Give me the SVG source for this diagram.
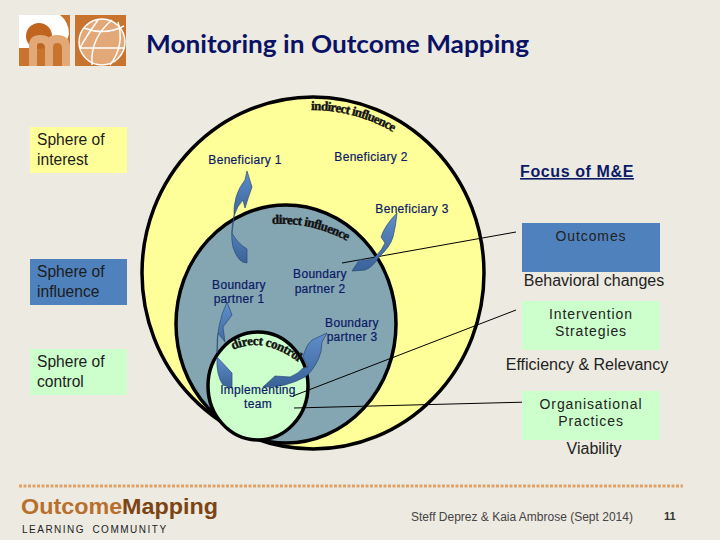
<svg xmlns="http://www.w3.org/2000/svg" width="720" height="540" viewBox="0 0 720 540">
<defs>
<linearGradient id="ag" x1="0" y1="0" x2="0" y2="1"><stop offset="0" stop-color="#5f8fca"/><stop offset="1" stop-color="#3a6299"/></linearGradient>
<path id="p1" d="M311 110 Q355 110 393 132"/>
<path id="p2" d="M272 224 Q312 222 347 241"/>
<path id="p3" d="M233 350 Q262 336 297 361"/>
</defs>
<style>
.s{font:15.6px "Liberation Sans",Arial,sans-serif;fill:#1c1c1c}
.r{font:16px "Liberation Sans",Arial,sans-serif;fill:#222;text-anchor:middle}
.t{font:14px "Liberation Sans",Arial,sans-serif;fill:#222;text-anchor:middle;letter-spacing:.9px}
.n{font:12px "Liberation Sans",Arial,sans-serif;fill:#0a1a66;text-anchor:middle;letter-spacing:.3px;stroke:#0a1a66;stroke-width:.2}
.c{fill:none;stroke:#000;stroke-width:3.5}
.w{font:bold 13px "Liberation Serif",serif;fill:#111;stroke:#111;stroke-width:.4}
.a{fill:url(#ag);stroke:#2a4a78;stroke-width:.7}
.l{fill:none;stroke:#000;stroke-width:1}
</style>
<rect width="720" height="540" fill="#edeae1"/>
<g id="logo">
<rect x="19" y="15" width="51" height="51" fill="#c8742f"/>
<path d="M19 15H60Q69 22 69 34Q66 46 60 42L40 46L30 48H19Z" fill="#fff"/>
<circle cx="39" cy="36" r="13" fill="#c0651f"/>
<path d="M33 66V46Q33 39 40 39Q49 39 49 48V66M49 48Q49 39 57 39Q66 39 66 48V66" fill="none" stroke="#e2a877" stroke-width="8"/>
<rect x="75" y="15" width="51" height="51" fill="#c8742f"/>
<circle cx="102" cy="42" r="23" fill="#e2a877" stroke="#fff" stroke-width="1.5"/>
<path d="M80 48H125M84 28Q105 36 124 26M112 20Q90 38 92 65M118 22Q125 45 110 65M98 20Q85 38 80 48" fill="none" stroke="#fff" stroke-width="1.5"/>
</g>
<text x="146" y="53" style="font:bold 24px Lato,'Open Sans',sans-serif;fill:#0a1266" textLength="383" lengthAdjust="spacingAndGlyphs">Monitoring in Outcome Mapping</text>
<g id="legend-interest"><rect x="30" y="127" width="97" height="46" fill="#ffff99"/><text class="s" x="37" y="145">Sphere of</text><text class="s" x="37" y="165">interest</text></g>
<g id="legend-influence"><rect x="30" y="259" width="97" height="46" fill="#4f81bd"/><text class="s" x="37" y="277">Sphere of</text><text class="s" x="37" y="297">influence</text></g>
<g id="legend-control"><rect x="30" y="349" width="97" height="46" fill="#ccffcc"/><text class="s" x="37" y="367">Sphere of</text><text class="s" x="37" y="387">control</text></g>
<g id="sphere-interest"><ellipse class="c" cx="313" cy="273" rx="171" ry="176" style="fill:#ffff99"/></g>
<g id="sphere-influence"><ellipse class="c" cx="286" cy="324" rx="110" ry="119" style="fill:#84a5b2"/></g>
<g id="sphere-control"><ellipse class="c" cx="258" cy="386" rx="50" ry="54" style="fill:#ccffcc"/></g>
<text class="w"><textPath href="#p1" textLength="86">indirect influence</textPath></text>
<text class="w"><textPath href="#p2" textLength="78">direct influence</textPath></text>
<text class="w"><textPath href="#p3" textLength="70">direct control</textPath></text>
<g id="connectors">
<path class="l" d="M342 263L516 232"/>
<path class="l" d="M293 396L516 310"/>
<path class="l" d="M294 408L530 402"/>
<path class="a" d="M247 171L252 187Q248 198 245 208L243 200Q237 206 234 216Q233 195 245 180Z"/>
<path class="a" d="M234 216L232 233Q237 243 247 249L247 263Q238 263 233 247Q230 235 234 216Z"/>
<path class="a" d="M397 213Q396 225 393 237Q390 247 379 257Q372 268 365 270L352 271L360 259L362 260Q370 261 375 257Q382 250 385 243L381 237Q385 225 397 213Z"/>
<path class="a" d="M227 302L232 315L223 327L225 342L218 333L217 353Q216 325 227 302Z"/>
<path class="a" d="M217 357L232 373V388L223 385Q216 375 217 357Z"/>
<path class="a" d="M327 333L322 342Q322 352 318 360Q312 372 305 377Q285 388 263 387L275 376L290 377Q298 374 303 368L308 367L303 357Q306 345 312 340Z"/>
</g>
<g id="b1"><text class="n" x="245" y="164">Beneficiary 1</text></g>
<g id="b2"><text class="n" x="371" y="161">Beneficiary 2</text></g>
<g id="b3"><text class="n" x="412" y="213">Beneficiary 3</text></g>
<g id="bp1"><text class="n" x="239" y="289">Boundary</text><text class="n" x="239" y="303">partner 1</text></g>
<g id="bp2"><text class="n" x="320" y="278">Boundary</text><text class="n" x="320" y="293">partner 2</text></g>
<g id="bp3"><text class="n" x="352" y="327">Boundary</text><text class="n" x="352" y="341">partner 3</text></g>
<g id="team"><text class="n" x="258" y="394">Implementing</text><text class="n" x="258" y="408">team</text></g>
<text x="577" y="177" style="font:bold 16px 'Liberation Sans',sans-serif;fill:#0a1a66;text-anchor:middle;text-decoration:underline;letter-spacing:.6px">Focus of M&amp;E</text>
<g id="outcomes"><rect x="522" y="223" width="138" height="49" fill="#4f81bd"/><text class="t" x="591" y="241">Outcomes</text></g>
<text class="r" x="594" y="286">Behavioral changes</text>
<g id="strategies"><rect x="522" y="301" width="138" height="49" fill="#ccffcc"/><text class="t" x="591" y="319">Intervention</text><text class="t" x="591" y="336">Strategies</text></g>
<text class="r" x="587" y="370">Efficiency &amp; Relevancy</text>
<g id="practices"><rect x="522" y="391" width="138" height="49" fill="#ccffcc"/><text class="t" x="591" y="409">Organisational</text><text class="t" x="591" y="426">Practices</text></g>
<text class="r" x="594" y="454">Viability</text>
<path d="M19 486H683" stroke="#e0a268" stroke-width="3" stroke-dasharray="3 1.5" fill="none"/>
<text x="21" y="514" style="font:bold 22.5px 'Liberation Sans',sans-serif;fill:#b96f2c" textLength="197" lengthAdjust="spacingAndGlyphs">Outcome<tspan fill="#7d4413">Mapping</tspan></text>
<text x="22" y="533" style="font:10px 'Liberation Sans',sans-serif;fill:#222;letter-spacing:1.5px;word-spacing:3px">LEARNING COMMUNITY</text>
<text x="411" y="521" style="font:12px 'Liberation Sans',sans-serif;fill:#444">Steff Deprez &amp; Kaia Ambrose (Sept 2014)</text>
<text x="664" y="520" style="font:bold 11px 'Liberation Sans',sans-serif;fill:#333">11</text>
</svg>
